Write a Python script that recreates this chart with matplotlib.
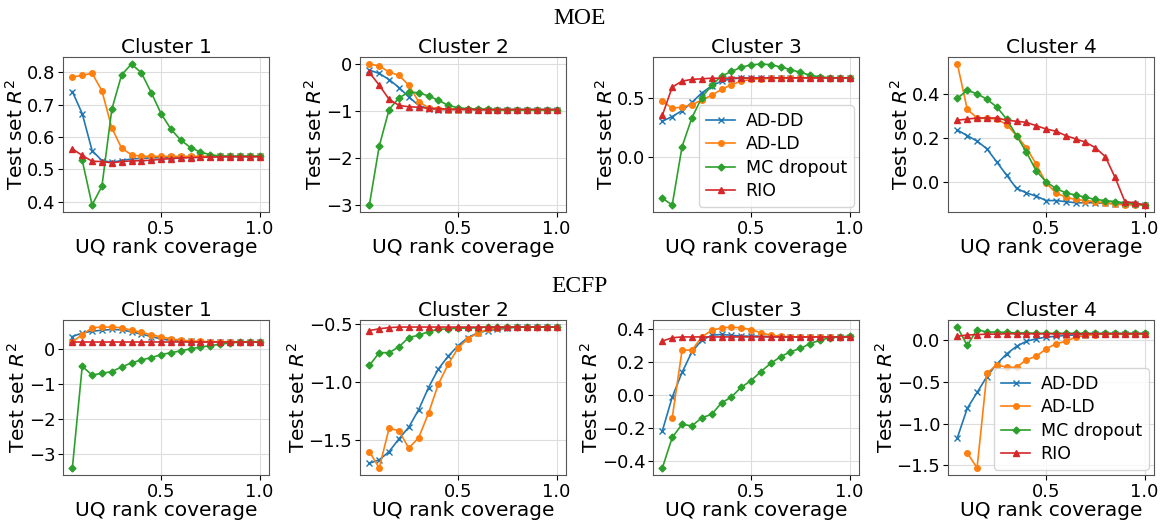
import numpy as np
import matplotlib
matplotlib.use("Agg")
import matplotlib.pyplot as plt

nan = np.nan
coverage = [0.05 * i for i in range(1, 21)]
methods = ["AD-DD", "AD-LD", "MC dropout", "RIO"]

# MOE
moe_c1_addd = [0.74, 0.672, 0.558, 0.527, 0.522, 0.527, 0.532, 0.534, 0.535, 0.536,
               0.537, 0.538, 0.538, 0.539, 0.539, 0.54, 0.54, 0.54, 0.54, 0.54]
moe_c1_adld = [0.785, 0.79, 0.797, 0.742, 0.628, 0.565, 0.545, 0.54, 0.54, 0.54,
               0.54, 0.54, 0.54, 0.54, 0.54, 0.54, 0.54, 0.54, 0.54, 0.54]
moe_c1_mc = [nan, 0.528, 0.39, 0.448, 0.685, 0.792, 0.825, 0.798, 0.737, 0.672,
             0.624, 0.59, 0.567, 0.553, 0.545, 0.541, 0.54, 0.54, 0.54, 0.54]
moe_c1_rio = [0.563, 0.543, 0.525, 0.524, 0.52, 0.524, 0.526, 0.527, 0.528, 0.531,
              0.533, 0.535, 0.536, 0.537, 0.538, 0.538, 0.539, 0.539, 0.539, 0.539]

moe_c2_addd = [-0.13, -0.2, -0.33, -0.5, -0.7, -0.88, -0.95, -0.97, -0.97, -0.97,
               -0.97, -0.97, -0.97, -0.97, -0.97, -0.97, -0.97, -0.97, -0.97, -0.97]
moe_c2_adld = [0.0, -0.04, -0.17, -0.24, -0.45, -0.8, -0.93, -0.96, -0.97, -0.97,
               -0.97, -0.97, -0.97, -0.97, -0.97, -0.97, -0.97, -0.97, -0.97, -0.97]
moe_c2_mc = [-3.0, -1.75, -0.97, -0.72, -0.6, -0.61, -0.68, -0.77, -0.88, -0.93,
             -0.95, -0.96, -0.96, -0.97, -0.97, -0.97, -0.97, -0.97, -0.97, -0.97]
moe_c2_rio = [-0.18, -0.45, -0.75, -0.88, -0.91, -0.92, -0.94, -0.95, -0.96, -0.96,
              -0.96, -0.97, -0.97, -0.97, -0.97, -0.97, -0.97, -0.97, -0.97, -0.97]

moe_c3_addd = [0.3, 0.34, 0.39, 0.46, 0.54, 0.6, 0.64, 0.66, 0.665, 0.665,
               0.667, 0.667, 0.668, 0.668, 0.668, 0.668, 0.668, 0.668, 0.668, 0.668]
moe_c3_adld = [0.47, 0.41, 0.42, 0.44, 0.48, 0.52, 0.57, 0.61, 0.64, 0.655,
               0.66, 0.665, 0.667, 0.668, 0.668, 0.668, 0.668, 0.668, 0.668, 0.668]
moe_c3_mc = [-0.354, -0.41, 0.085, 0.33, 0.5, 0.605, 0.683, 0.722, 0.758, 0.778,
             0.785, 0.78, 0.76, 0.738, 0.715, 0.69, 0.675, 0.67, 0.668, 0.668]
moe_c3_rio = [0.35, 0.59, 0.64, 0.655, 0.66, 0.665, 0.665, 0.666, 0.667, 0.667,
              0.668, 0.668, 0.668, 0.668, 0.668, 0.668, 0.668, 0.668, 0.668, 0.668]

moe_c4_addd = [0.235, 0.21, 0.185, 0.15, 0.09, 0.03, -0.03, -0.05, -0.065, -0.085,
               -0.085, -0.09, -0.095, -0.095, -0.095, -0.097, -0.1, -0.1, -0.1, -0.105]
moe_c4_adld = [0.535, 0.33, 0.29, 0.29, 0.285, 0.26, 0.21, 0.155, 0.08, -0.005,
               -0.05, -0.07, -0.08, -0.085, -0.09, -0.095, -0.1, -0.105, -0.105, -0.105]
moe_c4_mc = [0.38, 0.415, 0.4, 0.375, 0.34, 0.285, 0.21, 0.135, 0.05, 0.0,
             -0.03, -0.05, -0.06, -0.07, -0.08, -0.085, -0.09, -0.095, -0.1, -0.105]
moe_c4_rio = [0.28, 0.285, 0.29, 0.29, 0.29, 0.28, 0.275, 0.27, 0.255, 0.24,
              0.23, 0.21, 0.195, 0.18, 0.155, 0.115, 0.02, -0.09, -0.095, -0.105]

# ECFP
ecfp_c1_addd = [0.35, 0.45, 0.5, 0.53, 0.55, 0.54, 0.48, 0.42, 0.35, 0.28,
                0.24, 0.22, 0.21, 0.2, 0.2, 0.2, 0.2, 0.2, 0.2, 0.2]
ecfp_c1_adld = [0.2, 0.4, 0.6, 0.62, 0.62, 0.6, 0.53, 0.47, 0.4, 0.34,
                0.28, 0.25, 0.22, 0.21, 0.2, 0.2, 0.2, 0.2, 0.2, 0.2]
ecfp_c1_mc = [-3.4, -0.5, -0.75, -0.7, -0.65, -0.52, -0.4, -0.32, -0.25, -0.17,
              -0.11, -0.06, 0.0, 0.05, 0.09, 0.13, 0.17, 0.19, 0.19, 0.19]
ecfp_c1_rio = [0.19, 0.19, 0.19, 0.19, 0.19, 0.19, 0.19, 0.19, 0.19, 0.19,
               0.19, 0.19, 0.19, 0.19, 0.19, 0.19, 0.19, 0.19, 0.19, 0.19]

ecfp_c2_addd = [-1.7, -1.67, -1.6, -1.49, -1.39, -1.24, -1.05, -0.89, -0.78, -0.69,
                -0.62, -0.58, -0.56, -0.55, -0.54, -0.53, -0.53, -0.53, -0.53, -0.53]
ecfp_c2_adld = [-1.6, -1.74, -1.4, -1.42, -1.57, -1.48, -1.27, -1.02, -0.85, -0.71,
                -0.63, -0.58, -0.55, -0.54, -0.53, -0.53, -0.53, -0.53, -0.53, -0.53]
ecfp_c2_mc = [-0.86, -0.75, -0.75, -0.7, -0.62, -0.6, -0.57, -0.55, -0.545, -0.54,
              -0.54, -0.535, -0.53, -0.53, -0.53, -0.53, -0.53, -0.53, -0.53, -0.53]
ecfp_c2_rio = [-0.56, -0.545, -0.535, -0.53, -0.53, -0.53, -0.53, -0.53, -0.53, -0.53,
               -0.53, -0.53, -0.53, -0.53, -0.53, -0.53, -0.53, -0.53, -0.53, -0.53]

ecfp_c3_addd = [-0.22, -0.015, 0.135, 0.26, 0.33, 0.36, 0.365, 0.36, 0.355, 0.355,
                0.355, 0.352, 0.35, 0.35, 0.35, 0.35, 0.35, 0.35, 0.35, 0.35]
ecfp_c3_adld = [nan, -0.14, 0.27, 0.27, 0.35, 0.39, 0.405, 0.41, 0.405, 0.395,
                0.375, 0.36, 0.355, 0.35, 0.35, 0.35, 0.35, 0.35, 0.35, 0.35]
ecfp_c3_mc = [-0.445, -0.26, -0.18, -0.19, -0.14, -0.12, -0.05, -0.015, 0.045, 0.085,
              0.14, 0.19, 0.23, 0.26, 0.28, 0.31, 0.33, 0.345, 0.35, 0.355]
ecfp_c3_rio = [0.325, 0.345, 0.35, 0.35, 0.35, 0.35, 0.35, 0.35, 0.35, 0.35,
               0.35, 0.35, 0.35, 0.35, 0.35, 0.35, 0.35, 0.35, 0.35, 0.35]

ecfp_c4_addd = [-1.17, -0.82, -0.63, -0.44, -0.29, -0.17, -0.08, -0.02, 0.01, 0.03,
                0.04, 0.05, 0.055, 0.06, 0.065, 0.07, 0.07, 0.07, 0.07, 0.07]
ecfp_c4_adld = [nan, -1.35, -1.53, -0.4, -0.3, -0.33, -0.33, -0.24, -0.2, -0.11,
                -0.05, -0.02, 0.03, 0.05, 0.06, 0.07, 0.07, 0.07, 0.07, 0.07]
ecfp_c4_mc = [0.15, -0.07, 0.12, 0.09, 0.09, 0.085, 0.08, 0.08, 0.075, 0.075,
              0.075, 0.075, 0.075, 0.075, 0.075, 0.075, 0.075, 0.075, 0.075, 0.075]
ecfp_c4_rio = [0.04, 0.055, 0.06, 0.065, 0.065, 0.07, 0.07, 0.07, 0.07, 0.07,
               0.07, 0.07, 0.07, 0.07, 0.07, 0.07, 0.07, 0.07, 0.07, 0.07]

# y tick values shown on each panel
moe_yticks = [[0.4, 0.5, 0.6, 0.7, 0.8], [-3, -2, -1, 0], [0.0, 0.5], [0.0, 0.2, 0.4]]
ecfp_yticks = [[-3, -2, -1, 0], [-1.5, -1.0, -0.5], [-0.4, -0.2, 0.0, 0.2, 0.4],
               [-1.5, -1.0, -0.5, 0.0]]

panels = [
    [(moe_c1_addd, moe_c1_adld, moe_c1_mc, moe_c1_rio),
     (moe_c2_addd, moe_c2_adld, moe_c2_mc, moe_c2_rio),
     (moe_c3_addd, moe_c3_adld, moe_c3_mc, moe_c3_rio),
     (moe_c4_addd, moe_c4_adld, moe_c4_mc, moe_c4_rio)],
    [(ecfp_c1_addd, ecfp_c1_adld, ecfp_c1_mc, ecfp_c1_rio),
     (ecfp_c2_addd, ecfp_c2_adld, ecfp_c2_mc, ecfp_c2_rio),
     (ecfp_c3_addd, ecfp_c3_adld, ecfp_c3_mc, ecfp_c3_rio),
     (ecfp_c4_addd, ecfp_c4_adld, ecfp_c4_mc, ecfp_c4_rio)],
]
yticks = [moe_yticks, ecfp_yticks]
row_titles = ["MOE", "ECFP"]
legend_at = {(0, 2), (1, 3)}

colors = ["tab:blue", "tab:orange", "tab:green", "tab:red"]
markers = ["x", "o", "D", "^"]
msizes = [4.5, 4, 3.5, 4]

W, H = 1160, 521
fig = plt.figure(figsize=(W / 100, H / 100), dpi=100)

col_left = [63, 360, 653, 948]
ax_w = 206
row_top = [57, 320]
ax_h = 155

for r in range(2):
    fig.text(0.5, 1 - (18 if r == 0 else 287) / H, row_titles[r],
             ha="center", va="center", fontsize=17, family="Liberation Serif")
    for c in range(4):
        ax = fig.add_axes([col_left[c] / W, 1 - (row_top[r] + ax_h) / H, ax_w / W, ax_h / H])
        for s, vals in enumerate(panels[r][c]):
            ax.plot(coverage, vals, color=colors[s], marker=markers[s], markersize=msizes[s],
                    linewidth=1.2, label=methods[s])
        ax.set_title(f"Cluster {c + 1}", fontsize=14.5, pad=3)
        ax.set_xlabel("UQ rank coverage", fontsize=14.5, labelpad=0)
        ax.set_ylabel("Test set $R^2$", fontsize=14.5, labelpad=0)
        ax.set_xticks([0.5, 1.0])
        ax.set_yticks(yticks[r][c])
        ax.tick_params(labelsize=13, pad=2)
        ax.grid(True, color="#dddddd", linewidth=0.8)
        for sp in ax.spines.values():
            sp.set_color("#555555")
        if (r, c) in legend_at:
            ax.legend(loc="lower right", fontsize=12.5, handlelength=1.7, borderpad=0.4,
                      labelspacing=0.3, handletextpad=0.6, borderaxespad=0.3)

fig.savefig("out.png", dpi=100)
